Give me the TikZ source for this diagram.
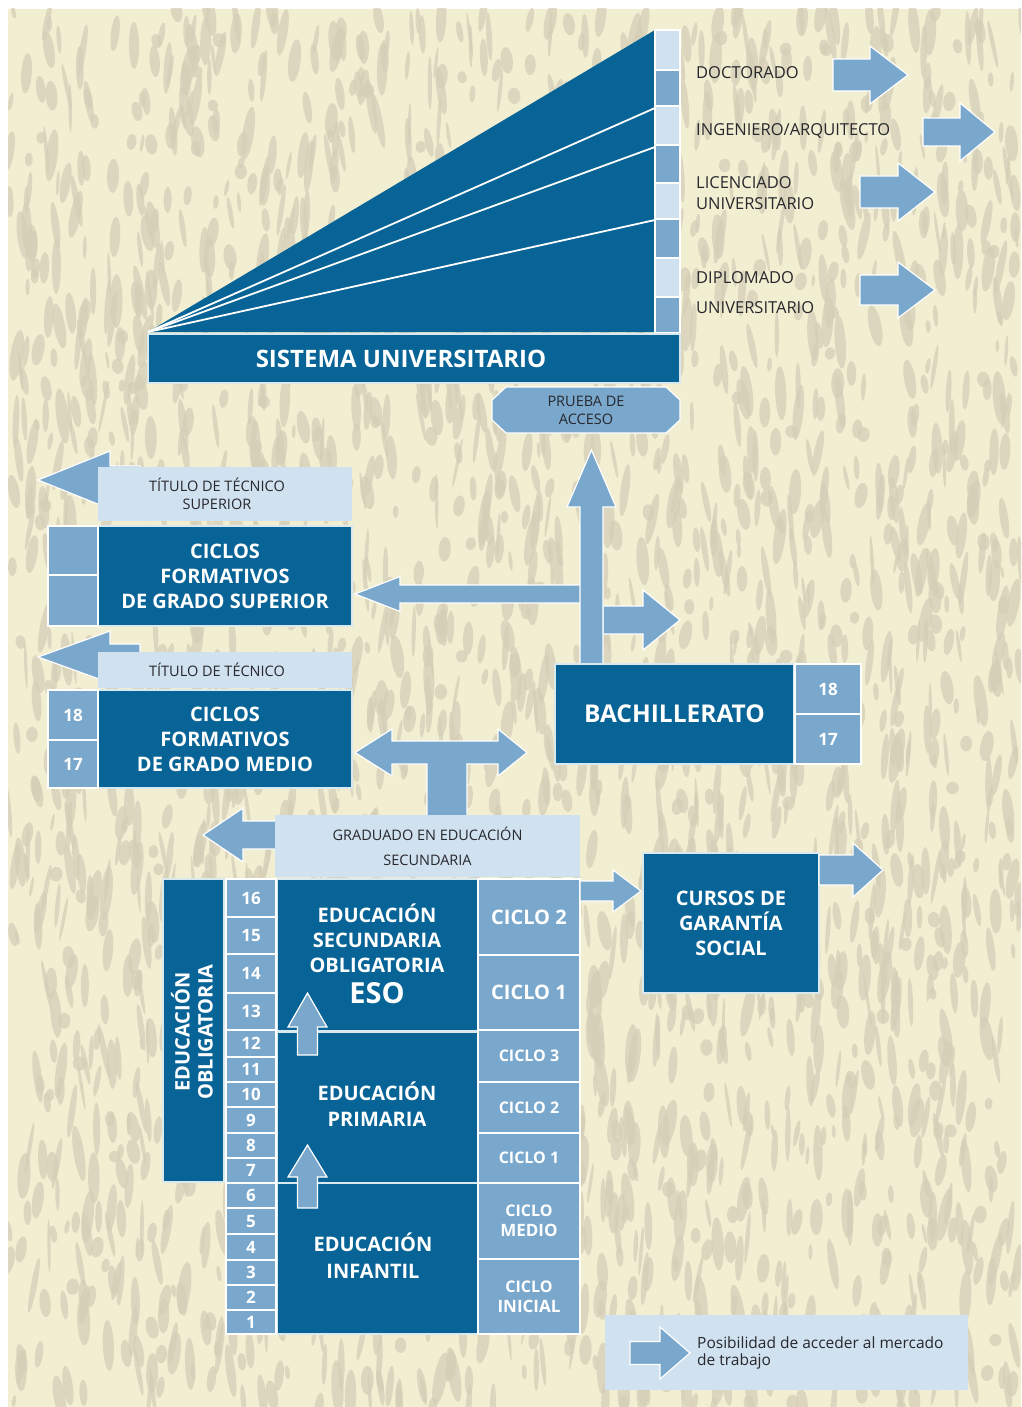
\documentclass[tikz,border=0pt]{standalone}
\usepackage{fontspec}
\setmainfont{Open Sans}
\definecolor{dblue}{RGB}{8,100,150}
\definecolor{mblue}{RGB}{122,168,205}
\definecolor{lblue}{RGB}{208,225,240}
\definecolor{txt}{RGB}{40,40,45}
\definecolor{bgc}{RGB}{242,238,210}
\definecolor{bgd}{RGB}{212,207,182}
\tikzset{
 bbase/.style={inner sep=0pt, outer sep=0pt, align=center},
 dbox/.style={bbase, fill=dblue, draw=white!85!dblue, line width=1.2pt, text=white, font=\bfseries\fontsize{20}{25}\selectfont},
 mcell/.style={bbase, fill=mblue, draw=white, line width=1.2pt, text=white, font=\bfseries\fontsize{17}{20}\selectfont},
 lcell/.style={bbase, fill=lblue, draw=white, line width=1.2pt},
 lbar/.style={bbase, fill=lblue, text=txt, font=\fontsize{14.5}{18}\selectfont},
 arr/.style={fill=mblue, draw=white, line width=1.2pt},
 lab/.style={anchor=west, text=txt, inner sep=0pt, font=\fontsize{16.5}{19}\selectfont},
}
% box: name, style, x1, y1, x2, y2, text
\newcommand{\mybox}[7]{\node[#2, minimum width={#5-#3}, minimum height={#6-#4}] (#1) at ({(#3+#5)/2},{(#4+#6)/2}) {#7};}
% horizontal block arrow: x0 (tail), x1 (head base), x2 (tip), yc, half shaft, half head
\newcommand{\myharrow}[6]{\draw[arr] (#1,{#4-#5}) -- (#2,{#4-#5}) -- (#2,{#4-#6}) -- (#3,#4) -- (#2,{#4+#6}) -- (#2,{#4+#5}) -- (#1,{#4+#5}) -- cycle;}
% vertical block arrow: y0 (tail), y1 (head base), y2 (tip), xc, half shaft, half head
\newcommand{\myvarrow}[6]{\draw[arr] ({#4-#5},#1) -- ({#4-#5},#2) -- ({#4-#6},#2) -- (#4,#3) -- ({#4+#6},#2) -- ({#4+#5},#2) -- ({#4+#5},#1) -- cycle;}
\begin{document}
\begin{tikzpicture}[x=1pt,y=-1pt]
\useasboundingbox (0,0) rectangle (1021,1407);
% background
\fill[bgc] (8,9) rectangle (1021,1407);
\begin{scope}
\clip (8,9) rectangle (1021,1407);
\pgfmathsetseed{11}
\foreach \i in {1,...,2600}{
  \pgfmathsetmacro{\rx}{8+rnd*1013}
  \pgfmathsetmacro{\ry}{9+rnd*1398}
  \pgfmathsetmacro{\ax}{1.5+rnd*5}
  \pgfmathsetmacro{\ay}{6+rnd*22}
  \pgfmathsetmacro{\rr}{-12+rnd*24}
  \fill[bgd, opacity=0.75, rotate around={\rr:(\rx,\ry)}] (\rx,\ry) ellipse ({\ax pt} and {\ay pt});
}
\end{scope}

% ---------- university ----------
\fill[dblue] (148,332) -- (655,30) -- (655,332) -- cycle;
\foreach \yy in {108,147,220}{\draw[white, line width=1.8pt] (148,332) -- (655,\yy);}
\mybox{s1}{lcell}{655}{30}{680}{70}{}
\mybox{s2}{mcell}{655}{70}{680}{106}{}
\mybox{s3}{lcell}{655}{106}{680}{145}{}
\mybox{s4}{mcell}{655}{145}{680}{183}{}
\mybox{s5}{lcell}{655}{183}{680}{219}{}
\mybox{s6}{mcell}{655}{219}{680}{258}{}
\mybox{s7}{lcell}{655}{258}{680}{297}{}
\mybox{s8}{mcell}{655}{297}{680}{333}{}
\mybox{su}{dbox}{148}{334}{680}{383}{}
\node[text=white, font=\bfseries\fontsize{24}{28}\selectfont] (sut) at (401,359) {SISTEMA UNIVERSITARIO};
\draw[arr] (506,387) -- (666,387) -- (680,400) -- (680,420) -- (666,433) -- (506,433) -- (492,420) -- (492,400) -- cycle;
\node[align=center, inner sep=0pt, text=txt, font=\fontsize{14.5}{18}\selectfont] (prueba) at (586,410) {PRUEBA DE\\ACCESO};

\node[lab] (doc) at (696,73) {DOCTORADO};
\node[lab] (ing) at (696,131) {INGENIERO/ARQUITECTO};
\node[lab] (lic1) at (696,183) {LICENCIADO};
\node[lab] (lic2) at (696,204) {UNIVERSITARIO};
\node[lab] (dip1) at (696,278) {DIPLOMADO};
\node[lab] (dip2) at (696,308) {UNIVERSITARIO};
\myharrow{833}{870}{908}{75}{16}{29}
\myharrow{923}{960}{995}{132}{14}{29}
\myharrow{860}{898}{935}{192}{16}{29}
\myharrow{860}{898}{935}{290}{15}{28}

% ---------- ciclos formativos ----------
\myharrow{140}{110}{38}{480}{14}{29}
\mybox{tts}{lbar}{98}{467}{352}{521}{\hspace*{-16pt}TÍTULO DE TÉCNICO\\\hspace*{-16pt}SUPERIOR}
\mybox{cfgs}{dbox}{98}{526}{352}{626}{CICLOS\\FORMATIVOS\\DE GRADO SUPERIOR}
\mybox{cs1}{mcell}{48}{526}{98}{575}{}
\mybox{cs2}{mcell}{48}{575}{98}{626}{}

\myharrow{140}{110}{38}{657}{13}{26}
\mybox{tt}{lbar}{98}{652}{352}{688}{\hspace*{-16pt}TÍTULO DE TÉCNICO}
\mybox{cfgm}{dbox}{98}{690}{352}{788}{CICLOS\\FORMATIVOS\\DE GRADO MEDIO}
\mybox{cm18}{mcell}{48}{690}{98}{740}{18}
\mybox{cm17}{mcell}{48}{740}{98}{788}{17}

% ---------- bachillerato arrows ----------
\myharrow{592}{400}{355}{594}{9}{17.5}
\myharrow{603}{643}{680}{620}{14}{30}
\myvarrow{665}{507}{450}{591.5}{11.5}{24.5}
\mybox{bach}{dbox}{555}{664}{794}{764}{\fontsize{24.5}{26}\selectfont BACHILLERATO}
\mybox{b18}{mcell}{795}{664}{861}{714}{18}
\mybox{b17}{mcell}{795}{714}{861}{764}{17}

% T arrow
\draw[arr] (355,752.5) -- (392,729) -- (392,741) -- (498,741) -- (498,729) -- (527,752.5) -- (498,776) -- (498,764) -- (467,764) -- (467,816) -- (427,816) -- (427,764) -- (392,764) -- (392,776) -- cycle;

% ---------- graduado ----------
\myharrow{280}{243}{203}{835}{14}{27}
\mybox{grad}{lbar}{275}{815}{580}{877}{GRADUADO EN EDUCACIÓN\\[7pt]SECUNDARIA}

% ---------- compulsory education ----------
\mybox{oblig}{dbox}{163}{879}{224}{1182}{}
\node[rotate=90, align=center, text=white, font=\bfseries\fontsize{20}{23}\selectfont] (obligt) at (192,1032) {EDUCACIÓN\\OBLIGATORIA};

\mybox{eso}{dbox}{277}{879}{478}{1031}{}
\node[align=center, text=white, font=\bfseries\fontsize{20}{25}\selectfont] (esot) at (377,938) {EDUCACIÓN\\SECUNDARIA\\OBLIGATORIA};
\node[text=white, font=\bfseries\fontsize{29}{30}\selectfont] (esot2) at (377,993) {ESO};
\mybox{prim}{dbox}{277}{1032}{478}{1183}{}
\node[align=center, text=white, font=\bfseries\fontsize{20}{26}\selectfont] (primt) at (377,1104) {EDUCACIÓN\\PRIMARIA};
\mybox{inf}{dbox}{277}{1183}{478}{1334}{}
\node[align=center, text=white, font=\bfseries\fontsize{20}{27}\selectfont] (inft) at (373,1256) {EDUCACIÓN\\INFANTIL};

\mybox{c2e}{mcell}{478}{879}{580}{955}{\fontsize{20}{22}\selectfont CICLO 2}
\mybox{c1e}{mcell}{478}{955}{580}{1030}{\fontsize{20}{22}\selectfont CICLO 1}
\mybox{c3p}{mcell}{478}{1030}{580}{1082}{\fontsize{16}{18}\selectfont CICLO 3}
\mybox{c2p}{mcell}{478}{1082}{580}{1133}{\fontsize{16}{18}\selectfont CICLO 2}
\mybox{c1p}{mcell}{478}{1133}{580}{1183}{\fontsize{16}{18}\selectfont CICLO 1}
\mybox{cmi}{mcell}{478}{1183}{580}{1259}{\fontsize{16}{20}\selectfont CICLO\\MEDIO}
\mybox{cin}{mcell}{478}{1259}{580}{1334}{\fontsize{16}{20}\selectfont CICLO\\INICIAL}

% ages
\mybox{a16}{mcell}{226}{879}{276}{917}{16}
\mybox{a15}{mcell}{226}{917}{276}{954}{15}
\mybox{a14}{mcell}{226}{954}{276}{993}{14}
\mybox{a13}{mcell}{226}{993}{276}{1030}{13}
\mybox{a12}{mcell}{226}{1030}{276}{1057}{12}
\mybox{a11}{mcell}{226}{1057}{276}{1082}{11}
\mybox{a10}{mcell}{226}{1082}{276}{1107}{10}
\mybox{a9}{mcell}{226}{1107}{276}{1133}{9}
\mybox{a8}{mcell}{226}{1133}{276}{1158}{8}
\mybox{a7}{mcell}{226}{1158}{276}{1183}{7}
\mybox{a6}{mcell}{226}{1183}{276}{1208}{6}
\mybox{a5}{mcell}{226}{1208}{276}{1234}{5}
\mybox{a4}{mcell}{226}{1234}{276}{1260}{4}
\mybox{a3}{mcell}{226}{1260}{276}{1285}{3}
\mybox{a2}{mcell}{226}{1285}{276}{1310}{2}
\mybox{a1}{mcell}{226}{1310}{276}{1334}{1}

% up arrows
\myvarrow{1055}{1027}{993}{307.5}{10}{19.5}
\myvarrow{1208}{1177}{1145}{307.5}{10}{19.5}

% ---------- garantia social ----------
\myharrow{580}{613}{641}{891}{10}{21}
\mybox{cgs}{dbox}{643}{853}{819}{993}{CURSOS DE\\GARANTÍA\\SOCIAL}
\myharrow{819}{853}{883}{870}{15}{27}

% ---------- legend ----------
\mybox{leg}{lbar}{605}{1315}{968}{1390}{}
\myharrow{630}{660}{690}{1353}{11.5}{26}
\node[anchor=west, align=left, inner sep=0pt, text=txt, font=\fontsize{15.5}{17}\selectfont] (legt) at (697,1353) {Posibilidad de acceder al mercado\\de trabajo};
\end{tikzpicture}
\end{document}
